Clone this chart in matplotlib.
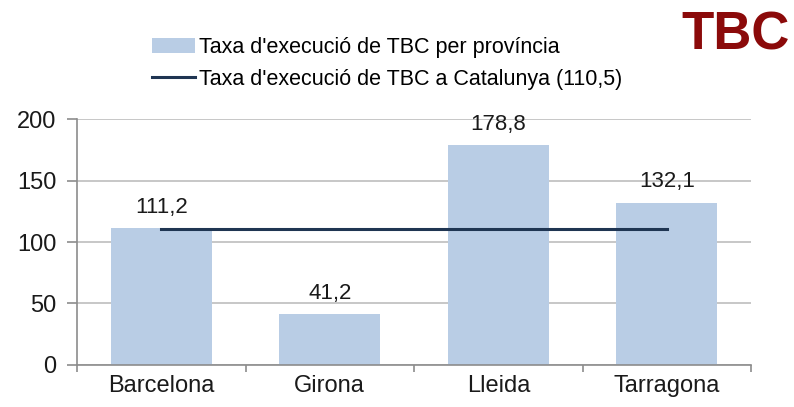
import numpy as np
import matplotlib
matplotlib.use("Agg")
import matplotlib.pyplot as plt
from matplotlib.ticker import FixedLocator

# data
provinces = ["Barcelona", "Girona", "Lleida", "Tarragona"]
rates = [111.2, 41.2, 178.8, 132.1]
catalunya = 110.5
bar_label = "Taxa d'execució de TBC per província"
line_label = "Taxa d'execució de TBC a Catalunya (110,5)"

plt.rcParams["font.family"] = ["Liberation Sans", "DejaVu Sans"]

fig = plt.figure(figsize=(7.94, 4.07), dpi=100)
ax = fig.add_axes([0.097, 0.1032, 0.849, 0.6044])

x = np.arange(len(provinces))
bars = ax.bar(x, rates, width=0.6, color="#B9CDE5", label=bar_label, zorder=2)
line, = ax.plot(x, [catalunya] * len(x), color="#1F3552", lw=2.2,
                label=line_label, zorder=3)

for xi, v in zip(x, rates):
    ax.annotate(f"{v:.1f}".replace(".", ","), (xi, v), xytext=(0, 11),
                textcoords="offset points", ha="center", va="baseline",
                fontsize=16, color="#1a1a1a", zorder=4)

ax.set_xlim(-0.5, len(provinces) - 0.5)
ax.set_ylim(0, 200)
ax.set_yticks([0, 50, 100, 150, 200])
ax.set_xticks(x)
ax.set_xticklabels(provinces)
ax.xaxis.set_minor_locator(FixedLocator(np.arange(-0.5, len(provinces), 1.0)))

ax.yaxis.grid(True, color="#BEBEBE", lw=1.2, zorder=0)
ax.set_axisbelow(True)
for s in ["top", "right"]:
    ax.spines[s].set_visible(False)
for s in ["left", "bottom"]:
    ax.spines[s].set_color("#8C8C8C")
    ax.spines[s].set_linewidth(1.2)

ax.tick_params(axis="y", length=7, width=1.2, color="#8C8C8C", labelsize=17,
               labelcolor="#1a1a1a", pad=8)
ax.tick_params(axis="x", which="major", length=0, labelsize=17,
               labelcolor="#1a1a1a", pad=7)
ax.tick_params(axis="x", which="minor", length=5, width=1.2, color="#8C8C8C")

fig.legend([bars, line], [bar_label, line_label], loc="upper left",
           bbox_to_anchor=(0.18, 0.93), frameon=False,
           fontsize=15.5, handlelength=2.0, handletextpad=0.2,
           labelspacing=0.5, borderaxespad=0)

fig.text(0.995, 0.975, "TBC", ha="right", va="top", fontsize=38,
         fontweight="bold", color="#8B0A0A")

fig.savefig("out.png", dpi=100)
